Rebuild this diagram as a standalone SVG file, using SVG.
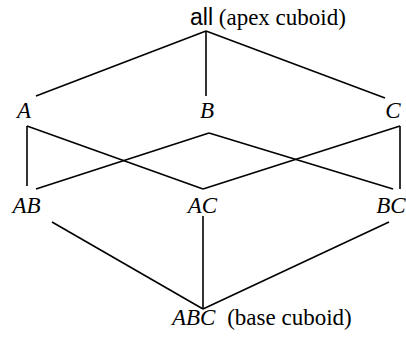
<svg xmlns="http://www.w3.org/2000/svg" width="406" height="339" viewBox="0 0 406 339">
<style>
.c line{stroke:#000;stroke-width:1.6;stroke-linecap:butt}
</style>
<rect width="406" height="339" fill="#fff"/>
<g class="c" id="connectors">
<line x1="206" y1="31" x2="36" y2="96"/>
<line x1="206" y1="31" x2="206" y2="96"/>
<line x1="206" y1="31" x2="385" y2="98"/>
<line x1="27" y1="126" x2="27" y2="186"/>
<line x1="27" y1="126" x2="203" y2="189"/>
<line x1="209" y1="133" x2="36" y2="189"/>
<line x1="209" y1="133" x2="393" y2="189"/>
<line x1="400" y1="126" x2="400" y2="189"/>
<line x1="400" y1="126" x2="203" y2="189"/>
<line x1="52" y1="222" x2="203" y2="309"/>
<line x1="203" y1="216" x2="203" y2="309"/>
<line x1="389" y1="222" x2="203" y2="309"/>
</g>
<g id="all"><text font-family="Liberation Serif" font-size="23" x="190" y="25"><tspan font-family="Liberation Sans">all</tspan> (apex cuboid)</text></g>
<g id="A"><text font-family="Liberation Serif" font-size="23" font-style="italic" x="24" y="118" text-anchor="middle">A</text></g>
<g id="B"><text font-family="Liberation Serif" font-size="23" font-style="italic" x="207" y="118" text-anchor="middle">B</text></g>
<g id="C"><text font-family="Liberation Serif" font-size="23" font-style="italic" x="393" y="118" text-anchor="middle">C</text></g>
<g id="AB"><text font-family="Liberation Serif" font-size="23" font-style="italic" x="26.5" y="213" text-anchor="middle">AB</text></g>
<g id="AC"><text font-family="Liberation Serif" font-size="23" font-style="italic" x="202.5" y="213" text-anchor="middle">AC</text></g>
<g id="BC"><text font-family="Liberation Serif" font-size="23" font-style="italic" x="391" y="213" text-anchor="middle">BC</text></g>
<g id="ABC"><text font-family="Liberation Serif" font-size="23" x="172" y="325"><tspan font-style="italic">ABC</tspan><tspan dx="6"> (base cuboid)</tspan></text></g>
</svg>
